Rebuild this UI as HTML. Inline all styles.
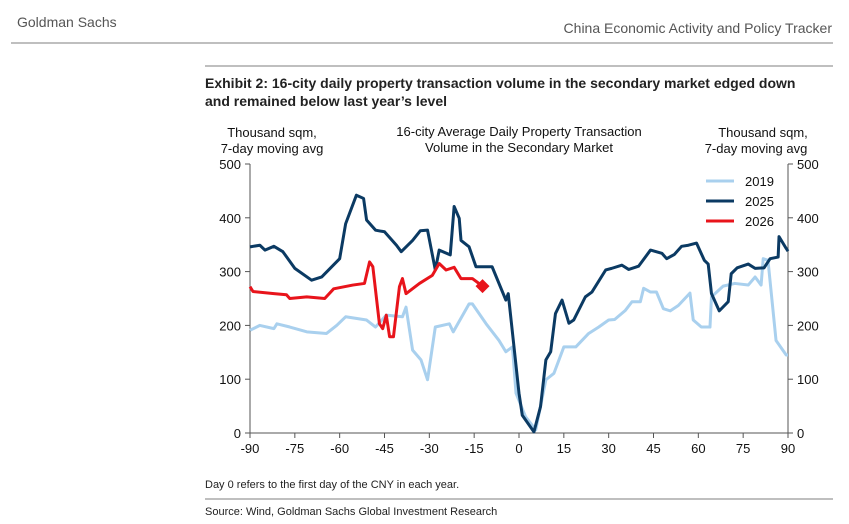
<!DOCTYPE html>
<html><head><meta charset="utf-8"><style>
body{margin:0;background:#fff;width:849px;height:524px;overflow:hidden;font-family:"Liberation Sans",sans-serif;}
svg{display:block}
</style></head><body>
<svg width="849" height="524" font-family="Liberation Sans, sans-serif">
<text x="17" y="27" font-size="14" fill="#555">Goldman Sachs</text>
<text x="832" y="33" font-size="14" fill="#555" text-anchor="end">China Economic Activity and Policy Tracker</text>
<line x1="11" y1="43" x2="833" y2="43" stroke="#aaa" stroke-width="1.5"/>
<line x1="205" y1="66" x2="833" y2="66" stroke="#aaa" stroke-width="1.5"/>
<text x="205" y="88" font-size="14" font-weight="bold" fill="#222"><tspan x="205">Exhibit 2: 16-city daily property transaction volume in the secondary market edged down</tspan><tspan x="205" dy="18">and remained below last year’s level</tspan></text>
<g font-size="13" fill="#111" text-anchor="middle">
<text x="272" y="137"><tspan x="272">Thousand sqm,</tspan><tspan x="272" dy="16">7-day moving avg</tspan></text>
<text x="766" y="137"><tspan x="763">Thousand sqm,</tspan><tspan x="756" dy="16">7-day moving avg</tspan></text>
<text x="519" y="136"><tspan x="519">16-city Average Daily Property Transaction</tspan><tspan x="519" dy="16">Volume in the Secondary Market</tspan></text>
</g>
<g id="chart"></g>
<text x="205" y="488" font-size="11" fill="#222">Day 0 refers to the first day of the CNY in each year.</text>
<line x1="205" y1="499" x2="833" y2="499" stroke="#aaa" stroke-width="1.5"/>
<text x="205" y="515" font-size="11" fill="#222">Source: Wind, Goldman Sachs Global Investment Research</text>
</svg>
<script>
const xTicks=[-90,-75,-60,-45,-30,-15,0,15,30,45,60,75,90];
const yTicks=[0,100,200,300,400,500];
const days2025=[-90,-86.7,-85,-82,-79,-75,-69.4,-66,-60,-58,-54.4,-52,-51,-48,-45,-41,-39.4,-35.6,-33,-30.6,-28,-26.7,-23,-21.7,-20,-19.4,-16.7,-14.4,-9,-4.4,-3.6,0,1.1,5,7.2,9,10.6,12.2,14.4,16.7,18.3,22.2,24.4,29,31,34.4,36.7,40,44,47.8,49.4,52,54.4,56.7,59.4,62,63.3,64.4,67,70,71,73,76.7,79,82,84,86.7,87,89.4,90];
const vals2025=[346,349,340,347,337,306,284,290,324,389,442,436,396,377,374,349,337,358,376,377,303,340,331,421,399,358,346,309,309,247,259,74,33,2,49,136,151,222,247,204,210,253,262,303,306,312,304,310,340,334,324,332,347,349,353,321,314,259,227,244,296,307,314,306,307,324,327,365,343,338];
const days2019=[-90,-86.7,-82,-81,-76.7,-71,-64.4,-61,-58,-51,-48,-44.4,-39,-37.8,-35.6,-32.8,-30.6,-28,-23.3,-22,-16.7,-15.6,-11,-6.7,-4.4,-2.2,-1,2.2,5.6,9,11.7,15,19,23.3,26.7,30,32,35.6,37.8,40.6,41.7,44,46,48.3,50.6,53.3,57.2,58.3,61,63.9,64.4,68.3,72.2,76.7,79,81,81.7,83.3,86,89.4,90];
const vals2019=[191,200,194,203,197,188,185,200,216,210,197,219,216,234,154,136,99,197,203,188,240,240,203,172,151,160,74,30,6,99,111,160,160,185,197,210,211,228,244,244,269,262,262,231,227,237,260,210,197,197,253,273,278,275,290,275,324,321,172,145,145];
const days2026=[-90,-89,-82,-77.8,-76.7,-71,-65,-62,-55.6,-51.7,-50,-48.9,-46.7,-45.6,-44.4,-43.3,-42,-40,-39,-37.8,-33.3,-29,-26.7,-24.4,-21.7,-19.4,-15.6,-12.2];
const vals2026=[272,263,259,257,250,253,250,268,275,278,318,309,203,194,219,179,179,272,287,259,278,293,315,303,308,287,287,273];
const legendLabels=['2019','2025','2026'];
const colors=['#a9d0ee','#0b3a63','#e8141b'];
const X0=250,X1=788,Y0=433,Y1=164;
const xs=d=>X0+(d+90)/180*(X1-X0);
const ys=v=>Y0-v/500*(Y0-Y1);
const ns='http://www.w3.org/2000/svg';
const g=document.getElementById('chart');
function mk(t,a){const e=document.createElementNS(ns,t);for(const k in a)e.setAttribute(k,a[k]);g.appendChild(e);return e;}
let e;
e=mk('line',{x1:X0,y1:Y1,x2:X0,y2:Y0,stroke:'#555'});


e=mk('line',{x1:X1,y1:Y1,x2:X1,y2:Y0,stroke:'#555'});


e=mk('line',{x1:X0,y1:Y0,x2:X1,y2:Y0,stroke:'#555'});


yTicks.forEach(v=>{
 mk('line',{x1:X0-5,x2:X0,y1:ys(v),y2:ys(v),stroke:'#555'});
 mk('line',{x1:X1,x2:X1+5,y1:ys(v),y2:ys(v),stroke:'#555'});
 e=mk('text',{x:X0-9,y:ys(v)+5,'font-size':13,'text-anchor':'end',fill:'#111'});e.textContent=v;
 
 
 e=mk('text',{x:X1+9,y:ys(v)+5,'font-size':13,fill:'#111'});e.textContent=v;
 
 
});
xTicks.forEach(d=>{
 mk('line',{x1:xs(d),x2:xs(d),y1:Y0,y2:Y0+5,stroke:'#555'});
 e=mk('text',{x:xs(d),y:Y0+20,'font-size':13,'text-anchor':'middle',fill:'#111'});e.textContent=d;
 
 
});
function line(ds,vs,c,name){
 e=mk('polyline',{points:ds.map((d,i)=>xs(d)+','+ys(vs[i])).join(' '),fill:'none',stroke:c,'stroke-width':3,'stroke-linejoin':'round'});
 
 
}
line(days2019,vals2019,colors[0],'series-2019');
line(days2025,vals2025,colors[1],'series-2025');
line(days2026,vals2026,colors[2],'series-2026');
const ld=days2026[days2026.length-1],lv=vals2026[vals2026.length-1];
e=mk('polygon',{points:`${xs(ld)},${ys(lv)-7} ${xs(ld)+7},${ys(lv)} ${xs(ld)},${ys(lv)+7} ${xs(ld)-7},${ys(lv)}`,fill:colors[2]});


legendLabels.forEach((l,i)=>{
 const y=181+i*20;
 e=mk('line',{x1:706,x2:734,y1:y,y2:y,stroke:colors[i],'stroke-width':3});
 
 
 e=mk('text',{x:745,y:y+5,'font-size':13,fill:'#111'});e.textContent=l;
 
 
});
</script>
</body></html>
